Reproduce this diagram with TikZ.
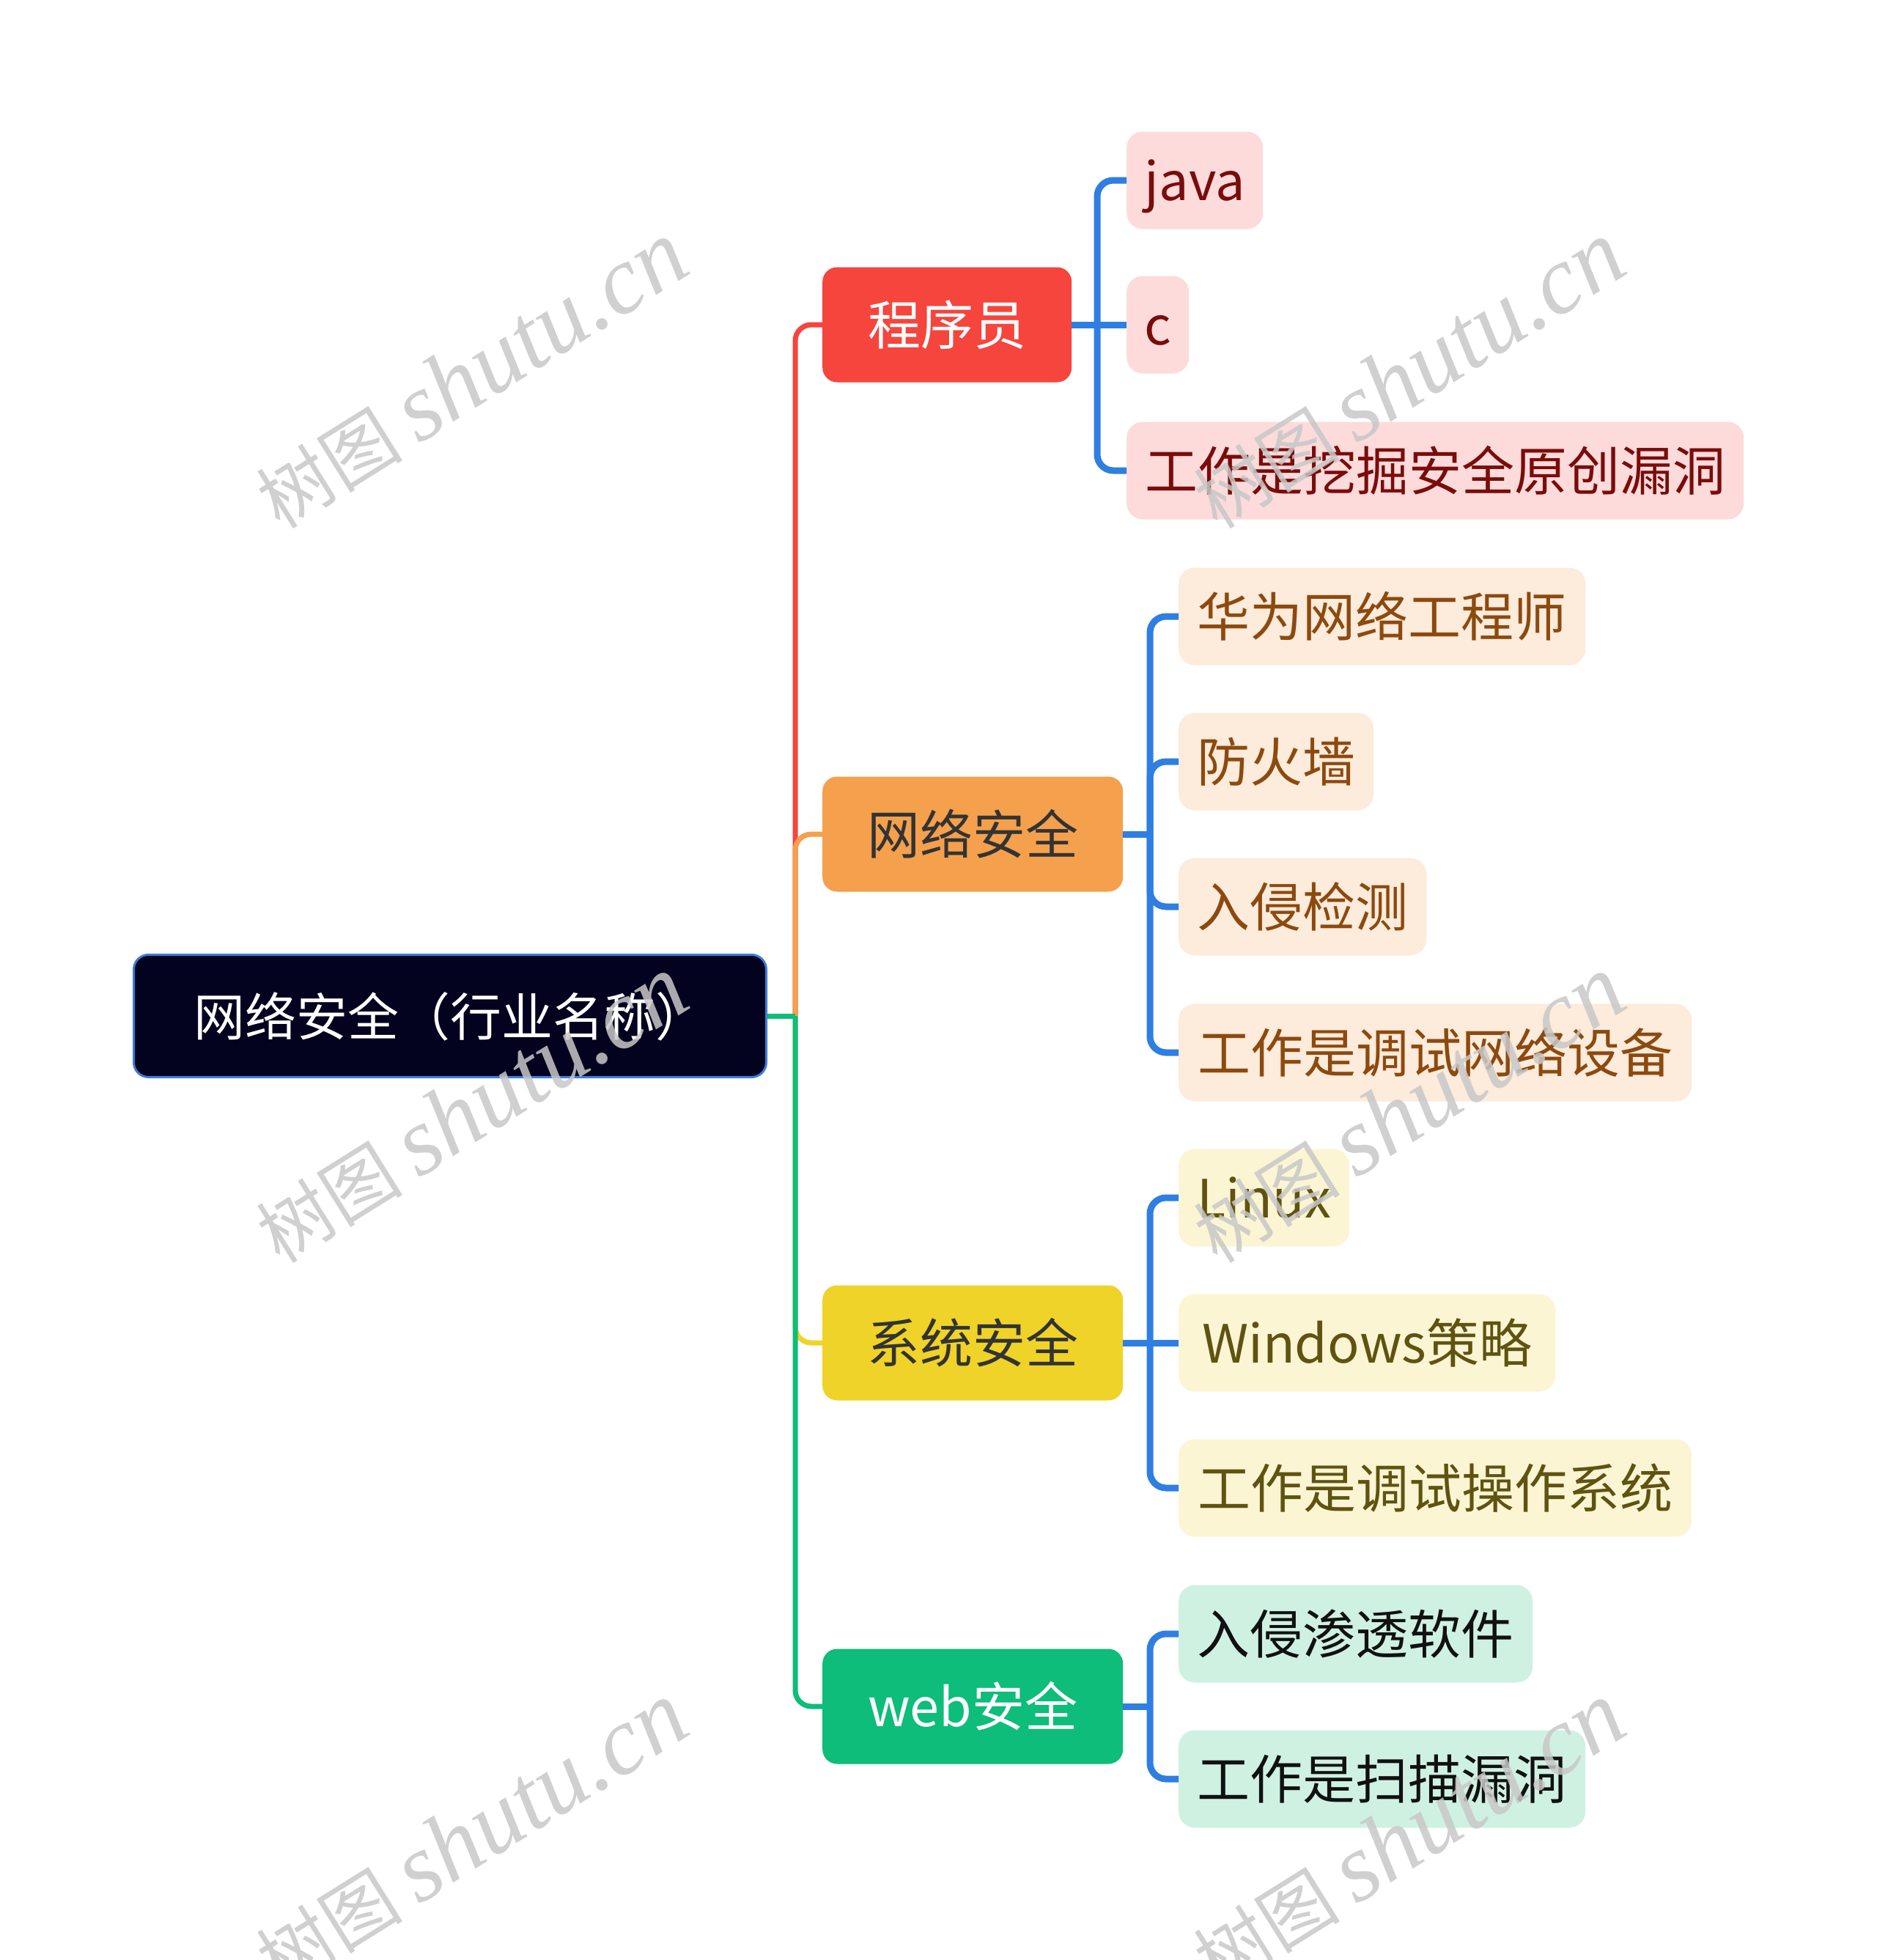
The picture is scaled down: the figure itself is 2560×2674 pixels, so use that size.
\documentclass[tikz,border=0pt]{standalone}
\usepackage{fontspec}
\setmainfont{Noto Sans CJK SC}
\newfontfamily\wmserif{Liberation Serif}
\definecolor{rootfill}{HTML}{03021F}
\definecolor{rootline}{HTML}{3B7DD8}
\definecolor{cred}{HTML}{F5453D}
\definecolor{corange}{HTML}{F4A04C}
\definecolor{cyellow}{HTML}{F0D328}
\definecolor{cgreen}{HTML}{0DBD79}
\definecolor{cblue}{HTML}{2F7EE2}
\definecolor{lred}{HTML}{FDDBDB}
\definecolor{tred}{HTML}{7A0C0C}
\definecolor{lorange}{HTML}{FDEBDB}
\definecolor{torange}{HTML}{8C4A0F}
\definecolor{lyellow}{HTML}{FCF5D4}
\definecolor{tyellow}{HTML}{5E5310}
\definecolor{lgreen}{HTML}{CFF1E2}
\definecolor{tgreen}{HTML}{111111}
\definecolor{tdark}{HTML}{333333}
\definecolor{wmgray}{HTML}{C8C8C8}
\newcommand\wmtext{{\fontsize{100}{110}\selectfont 树图} {\wmserif\itshape\fontsize{132}{140}\selectfont shutu.cn}}
\begin{document}
\begin{tikzpicture}[x=1pt,y=-1pt,
  box/.style={rectangle, rounded corners=20pt, inner sep=0pt, anchor=west,
    font=\fontsize{72}{86}\selectfont, text height=63pt, text depth=9pt, align=center},
  rootbox/.style={box, fill=rootfill, draw=rootline, line width=3pt, text=white,
    minimum height=167pt, font=\fontsize{70}{84}\selectfont},
  mainbox/.style={box, minimum height=157pt},
  subbox/.style={box, minimum height=133pt, rounded corners=22pt},
  redsub/.style={subbox, fill=lred, text=tred},
  orangesub/.style={subbox, fill=lorange, text=torange},
  yellowsub/.style={subbox, fill=lyellow, text=tyellow},
  greensub/.style={subbox, fill=lgreen, text=tgreen},
  trunk/.style={line width=7pt, rounded corners=22pt},
  bus/.style={line width=9pt, cblue, rounded corners=22pt},
  wm/.style={rotate=32, text=wmgray, opacity=0.85, inner sep=0pt,
    font=\fontsize{100}{110}\selectfont}
]
\useasboundingbox[fill=white] (0,0) rectangle (2560,2674);

% nodes
\node[rootbox, minimum width=863pt] (root) at (181,1386) {网络安全（行业名称）};

\node[mainbox, fill=cred, text=white, minimum width=340pt] (p1) at (1122,443) {程序员};
\node[mainbox, fill=corange, text=tdark, minimum width=410pt] (p2) at (1122,1138) {网络安全};
\node[mainbox, fill=cyellow, text=tdark, minimum width=410pt] (p3) at (1122,1832) {系统安全};
\node[mainbox, fill=cgreen, text=white, minimum width=410pt] (p4) at (1122,2328) {web安全};

\node[redsub, minimum width=186pt] (a1) at (1537,246) {java};
\node[redsub, minimum width=85pt] (a2) at (1537,443) {c};
\node[redsub, minimum width=842pt] (a3) at (1537,642) {工作是挖掘安全原创漏洞};

\node[orangesub, minimum width=555pt] (b1) at (1608,841) {华为网络工程师};
\node[orangesub, minimum width=266pt] (b2) at (1608,1039) {防火墙};
\node[orangesub, minimum width=338pt] (b3) at (1608,1237) {入侵检测};
\node[orangesub, minimum width=700pt] (b4) at (1608,1436) {工作是调试网络设备};

\node[yellowsub, minimum width=233pt] (c1) at (1608,1634) {Linux};
\node[yellowsub, minimum width=514pt] (c2) at (1608,1832) {Windows策略};
\node[yellowsub, minimum width=700pt] (c3) at (1608,2030) {工作是调试操作系统};

\node[greensub, minimum width=483pt] (d1) at (1608,2229) {入侵渗透软件};
\node[greensub, minimum width=555pt] (d2) at (1608,2427) {工作是扫描漏洞};

% junctions
\coordinate (j0) at (1085,1386);
\coordinate (j1) at (1497,443);
\coordinate (j2) at (1569,1138);
\coordinate (j3) at (1569,1832);
\coordinate (j4) at (1569,2328);

% level-1 connectors
\draw[trunk, cred] (j0) -- (j0 |- p1.west) -- (p1.west);
\draw[trunk, corange] (j0) -- (j0 |- p2.west) -- (p2.west);
\draw[trunk, cyellow] (j0) -- (j0 |- p3.west) -- (p3.west);
\draw[trunk, cgreen] (j0) -- (j0 |- p4.west) -- (p4.west);
\draw[line width=7pt, cgreen] (root.east) -- (j0);

% level-2 connectors
\draw[bus] (p1.east) -- (j1);
\draw[bus] (j1) -- (j1 |- a1.west) -- (a1.west);
\draw[bus] (j1) -- (a2.west);
\draw[bus] (j1) -- (j1 |- a3.west) -- (a3.west);

\draw[bus] (p2.east) -- (j2);
\draw[bus] (j2) -- (j2 |- b1.west) -- (b1.west);
\draw[bus] (j2) -- (j2 |- b2.west) -- (b2.west);
\draw[bus] (j2) -- (j2 |- b3.west) -- (b3.west);
\draw[bus] (j2) -- (j2 |- b4.west) -- (b4.west);

\draw[bus] (p3.east) -- (j3);
\draw[bus] (j3) -- (j3 |- c1.west) -- (c1.west);
\draw[bus] (j3) -- (c2.west);
\draw[bus] (j3) -- (j3 |- c3.west) -- (c3.west);

\draw[bus] (p4.east) -- (j4);
\draw[bus] (j4) -- (j4 |- d1.west) -- (d1.west);
\draw[bus] (j4) -- (j4 |- d2.west) -- (d2.west);

% watermarks
\node[wm] (w1) at (643,512) {\wmtext};
\node[wm] (w2) at (643,1514) {\wmtext};
\node[wm] (w3) at (643,2505) {\wmtext};
\node[wm] (w4) at (1922,512) {\wmtext};
\node[wm] (w5) at (1922,1514) {\wmtext};
\node[wm] (w6) at (1922,2505) {\wmtext};
\end{tikzpicture}
\end{document}
